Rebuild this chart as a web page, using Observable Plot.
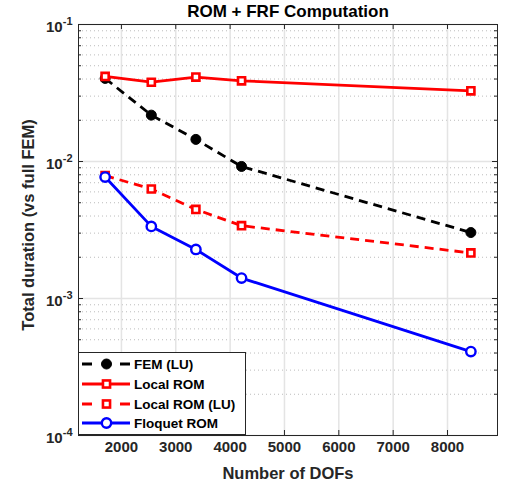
<!DOCTYPE html>
<html>
<head>
<meta charset="utf-8">
<script src="https://cdn.jsdelivr.net/npm/d3@7"></script>
<script src="https://cdn.jsdelivr.net/npm/@observablehq/plot@0.6"></script>
<style>
  body { margin: 0; background: #fff; font-family: "Liberation Sans", Arial, Helvetica, sans-serif; }
  #chart { position: relative; width: 513px; height: 488px; }
  #legend { position: absolute; left: 78px; top: 352px; }
</style>
</head>
<body>
<div id="chart"></div>
<script>
// Model size (number of degrees of freedom) for each run
const dofs = [1700, 2550, 3370, 4210, 8430];

// Total duration relative to the full FEM solve
const femLU      = [0.0404, 0.0218, 0.0145, 0.0092, 0.00303];
const localROM   = [0.0418, 0.0379, 0.0413, 0.0388, 0.0328];
const localROMLU = [0.0079, 0.0063, 0.00447, 0.0034, 0.00215];
const floquetROM = [0.0077, 0.00336, 0.00228, 0.00141, 0.00041];

const seriesNames = ["FEM (LU)", "Local ROM", "Local ROM (LU)", "Floquet ROM"];
const seriesValues = [femLU, localROM, localROMLU, floquetROM];

// Axis ticks
const xTicks = [2000, 3000, 4000, 5000, 6000, 7000, 8000];
const yDecades = [1e-4, 1e-3, 1e-2, 1e-1];

const titleText = "ROM + FRF Computation";
const xLabel = "Number of DOFs";
const yLabel = "Total duration (vs full FEM)";

// Line / marker styling per series
const styles = [
  {color: "#000000", dash: "9,6", legendDash: "10,28,10", symbol: "circle", r: 5.0, fill: "#000000", sw: 1},
  {color: "#ff0000", dash: null,  legendDash: null,       symbol: "square", r: 4.0, fill: "#ffffff", sw: 2.6},
  {color: "#ff0000", dash: "9,6", legendDash: "10,28,10", symbol: "square", r: 4.0, fill: "#ffffff", sw: 2.6},
  {color: "#0000ff", dash: null,  legendDash: null,       symbol: "circle", r: 4.7, fill: "#ffffff", sw: 2.4}
];

const series = seriesNames.map((name, i) => ({
  name, ...styles[i],
  rows: dofs.map((d, j) => ({dof: d, value: seriesValues[i][j]}))
}));

// Minor log ticks (2..9 within each decade)
const yMinor = [];
for (const dec of yDecades.slice(0, -1)) for (let k = 2; k <= 9; k++) yMinor.push(dec * k);

const W = 513, H = 488;
const margin = {top: 24, right: 16, bottom: 53, left: 78};
const plotW = W - margin.left - margin.right;
const plotH = H - margin.top - margin.bottom;
const axisColor = "#262626";
const fontFamily = "Liberation Sans, Arial, Helvetica, sans-serif";

const marks = [
  Plot.gridY(yMinor, {stroke: "#bcbcbc", strokeOpacity: 1, strokeWidth: 1, strokeDasharray: "1,3"}),
  Plot.gridY(yDecades, {stroke: "#e4e4e4", strokeOpacity: 1, strokeWidth: 1.5}),
  Plot.gridX(xTicks, {stroke: "#e4e4e4", strokeOpacity: 1, strokeWidth: 1.5})
];

for (const s of series) {
  marks.push(Plot.line(s.rows, {
    x: "dof", y: "value", stroke: s.color, strokeWidth: 2.8,
    strokeDasharray: s.dash || undefined, strokeLinecap: "butt"
  }));
  marks.push(Plot.dot(s.rows, {
    x: "dof", y: "value", symbol: s.symbol, r: s.r,
    fill: s.fill, stroke: s.color, strokeWidth: s.sw
  }));
}

marks.push(
  Plot.frame({stroke: axisColor, strokeWidth: 1}),
  // inward ticks on all four sides
  Plot.tickX(xTicks, {x: d => d, stroke: axisColor, insetTop: plotH - 5}),
  Plot.tickX(xTicks, {x: d => d, stroke: axisColor, insetBottom: plotH - 5}),
  Plot.tickY(yDecades, {y: d => d, stroke: axisColor, insetRight: plotW - 5}),
  Plot.tickY(yDecades, {y: d => d, stroke: axisColor, insetLeft: plotW - 5}),
  Plot.tickY(yMinor, {y: d => d, stroke: axisColor, insetRight: plotW - 3}),
  Plot.tickY(yMinor, {y: d => d, stroke: axisColor, insetLeft: plotW - 3}),
  Plot.axisX(xTicks, {tickSize: 0, tickPadding: 6, label: null, fill: axisColor, tickFormat: d => String(d)}),
  Plot.axisY(yDecades, {tickSize: 0, tickPadding: 6, label: null, fill: axisColor,
    tickFormat: d => String(Math.round(Math.log10(d)))}),
  Plot.text([titleText], {frameAnchor: "top", dy: -13, lineAnchor: "middle", fill: "#000"}),
  Plot.text([xLabel], {frameAnchor: "bottom", dy: 38, lineAnchor: "middle", fill: axisColor}),
  Plot.text([yLabel], {frameAnchor: "left", dx: -50, dy: -5, rotate: -90, textAnchor: "middle", fill: axisColor})
);

const chart = Plot.plot({
  width: W, height: H,
  marginTop: margin.top, marginRight: margin.right, marginBottom: margin.bottom, marginLeft: margin.left,
  x: {domain: [1210, 8920]},
  y: {type: "log", domain: [1e-4, 1e-1]},
  style: {fontFamily, background: "#fff", overflow: "visible"},
  marks
});

const svg = d3.select(chart);

// Bold text sizes for tick labels, title and axis labels
svg.selectAll('[aria-label="x-axis tick label"] text, [aria-label="y-axis tick label"] text')
  .style("font-size", "15px").style("font-weight", "bold").style("font-family", fontFamily);
const textGroups = svg.selectAll('g[aria-label="text"]').nodes();
const textSizes = ["17px", "16.5px", "16.5px"];
textGroups.forEach((g, i) => d3.select(g).selectAll("text")
  .style("font-size", textSizes[i]).style("font-weight", "bold").style("font-family", fontFamily));

// Render y tick labels as powers of ten with superscript exponents
svg.selectAll('[aria-label="y-axis tick label"] text').each(function () {
  const exp = this.textContent;
  const t = d3.select(this);
  t.text(null);
  t.append("tspan").attr("dy", "0.15em").text("10");
  t.append("tspan").attr("dy", "-0.6em").style("font-size", "11px").text(exp);
});

const root = document.getElementById("chart");
root.appendChild(chart);

// Legend box
const lg = {w: 168, h: 83, rowY: [12, 32, 52, 71], x0: 4, x1: 52, tx: 56};
const legend = d3.select(root).append("svg")
  .attr("id", "legend").attr("width", lg.w).attr("height", lg.h)
  .style("font-family", fontFamily);
legend.append("rect").attr("x", 0.5).attr("y", 0.5).attr("width", lg.w - 1).attr("height", lg.h - 1)
  .attr("fill", "#fff").attr("stroke", axisColor).attr("stroke-width", 1);
series.forEach((s, i) => {
  const g = legend.append("g").attr("transform", `translate(0,${lg.rowY[i]})`);
  g.append("line").attr("x1", lg.x0).attr("x2", lg.x1).attr("y1", 0).attr("y2", 0)
    .attr("stroke", s.color).attr("stroke-width", 2.8)
    .attr("stroke-dasharray", s.legendDash);
  const cx = (lg.x0 + lg.x1) / 2 + 0.5;
  if (s.symbol === "circle") {
    g.append("circle").attr("cx", cx).attr("cy", 0).attr("r", s.r)
      .attr("fill", s.fill).attr("stroke", s.color).attr("stroke-width", s.sw);
  } else {
    const side = s.r * Math.sqrt(Math.PI);
    g.append("rect").attr("x", cx - side / 2).attr("y", -side / 2).attr("width", side).attr("height", side)
      .attr("fill", s.fill).attr("stroke", s.color).attr("stroke-width", s.sw);
  }
  g.append("text").attr("x", lg.tx).attr("y", 0).attr("dy", "0.35em")
    .style("font-size", "13.5px").style("font-weight", "bold").attr("fill", "#000").text(s.name);
});
</script>
</body>
</html>
